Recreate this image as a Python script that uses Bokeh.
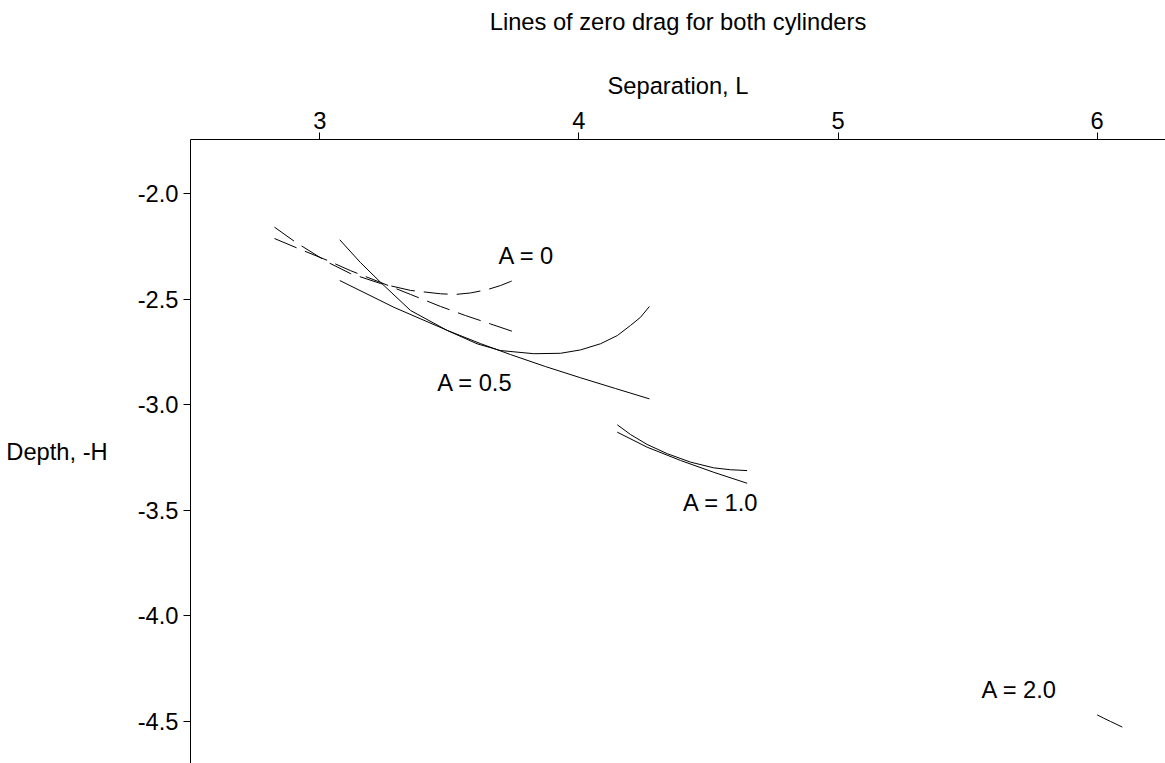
from bokeh.plotting import figure
from bokeh.models import FixedTicker, Range1d, ColumnDataSource, LinearAxis
from bokeh.core.properties import value
from bokeh.embed import file_html
from bokeh.resources import INLINE

# ---- data ----
title_text = "Lines of zero drag for both cylinders"
x_label = "Separation, L"
y_label = "Depth, -H"

# A = 0 (dashed) curves
a0_curve_x = [2.825, 2.906, 3.030, 3.118, 3.234, 3.350, 3.466, 3.524, 3.582, 3.647, 3.697, 3.736, 3.772]
a0_curve_y = [-2.158, -2.229, -2.324, -2.378, -2.425, -2.458, -2.474, -2.477, -2.470, -2.454, -2.435, -2.416, -2.395]
a0_line_x = [2.825, 2.926, 3.030, 3.118, 3.234, 3.350, 3.466, 3.562, 3.659, 3.772]
a0_line_y = [-2.212, -2.264, -2.316, -2.364, -2.420, -2.477, -2.534, -2.577, -2.617, -2.664]

# A = 0.5 (solid) curves
a05_curve_x = [3.077, 3.157, 3.234, 3.350, 3.492, 3.607, 3.697, 3.826, 3.929, 4.006, 4.083, 4.148, 4.199, 4.238, 4.272]
a05_curve_y = [-2.218, -2.326, -2.419, -2.553, -2.648, -2.711, -2.743, -2.758, -2.756, -2.740, -2.711, -2.672, -2.624, -2.585, -2.534]
a05_line_x = [3.077, 3.286, 3.493, 3.620, 3.736, 3.871, 4.006, 4.141, 4.272]
a05_line_y = [-2.411, -2.538, -2.648, -2.710, -2.762, -2.819, -2.872, -2.923, -2.972]

# A = 1.0 (solid) curves
a1_curve_x = [4.148, 4.199, 4.263, 4.341, 4.431, 4.520, 4.585, 4.649]
a1_curve_y = [-3.095, -3.141, -3.188, -3.232, -3.272, -3.299, -3.308, -3.312]
a1_line_x = [4.148, 4.263, 4.392, 4.520, 4.649]
a1_line_y = [-3.130, -3.201, -3.264, -3.320, -3.372]

# A = 2.0 (solid) curve
a2_curve_x = [6.000, 6.0255, 6.051, 6.097]
a2_curve_y = [-4.470, -4.486, -4.501, -4.528]

# curve labels
label_text = ["A = 0", "A = 0.5", "A = 1.0", "A = 2.0"]
label_x = [3.798, 3.599, 4.548, 5.700]
label_y = [-2.297, -2.899, -3.468, -4.352]

x_ticks = [3, 4, 5, 6]
y_ticks = [-2.0, -2.5, -3.0, -3.5, -4.0, -4.5]
y_tick_labels = ["-2.0", "-2.5", "-3.0", "-3.5", "-4.0", "-4.5"]

FONT = "Liberation Sans"
FS = "23.7px"

p = figure(width=1165, height=763, output_backend="svg", toolbar_location=None,
           x_axis_location="above", title_location=None,
           x_range=Range1d(2.501, 6.2636), y_range=Range1d(-4.7005, -1.7426),
           min_border_left=190, min_border_right=0, min_border_top=139, min_border_bottom=0)

p.xgrid.visible = False
p.ygrid.visible = False
p.outline_line_color = None
p.background_fill_color = "white"
p.border_fill_color = "white"

for ax in (p.xaxis[0], p.yaxis[0]):
    ax.axis_line_color = "black"
    ax.major_tick_line_color = "black"
    ax.major_tick_out = 7
    ax.major_tick_in = 0
    ax.minor_tick_line_color = None
    ax.major_label_text_font = FONT
    ax.major_label_text_font_size = FS
    ax.major_label_text_color = "black"
    ax.axis_label_text_font = FONT
    ax.axis_label_text_font_size = FS
    ax.axis_label_text_font_style = "normal"
    ax.axis_label_text_color = "black"

p.xaxis[0].ticker = FixedTicker(ticks=x_ticks)
p.xaxis[0].axis_label = x_label
p.xaxis[0].major_label_standoff = 4
p.xaxis[0].axis_label_standoff = 10

p.yaxis[0].ticker = FixedTicker(ticks=y_ticks)
p.yaxis[0].major_label_overrides = {t: s for t, s in zip(y_ticks, y_tick_labels)}
p.yaxis[0].axis_label = y_label
p.yaxis[0].axis_label_orientation = "horizontal"
p.yaxis[0].major_label_standoff = 5
p.yaxis[0].axis_label_standoff = 27

# title drawn as the label of an outer, bare axis above the plot
title_axis = LinearAxis(ticker=FixedTicker(ticks=[]), axis_label=title_text,
                        axis_line_color=None, major_tick_out=0, major_tick_in=0,
                        minor_tick_line_color=None, major_label_standoff=0,
                        axis_label_standoff=35, axis_label_text_font=FONT,
                        axis_label_text_font_size=FS, axis_label_text_font_style="normal",
                        axis_label_text_color="black")
p.add_layout(title_axis, "above")

dash = "24 9"
p.line(a0_curve_x, a0_curve_y, line_color="black", line_width=1, line_dash=dash)
p.line(a0_line_x, a0_line_y, line_color="black", line_width=1, line_dash=dash)
p.line(a05_curve_x, a05_curve_y, line_color="black", line_width=1)
p.line(a05_line_x, a05_line_y, line_color="black", line_width=1)
p.line(a1_curve_x, a1_curve_y, line_color="black", line_width=1)
p.line(a1_line_x, a1_line_y, line_color="black", line_width=1)
p.line(a2_curve_x, a2_curve_y, line_color="black", line_width=1)

src = ColumnDataSource(dict(x=label_x, y=label_y, t=label_text))
p.text(x="x", y="y", text="t", source=src, text_font=value(FONT), text_font_size=FS,
       text_align="center", text_baseline="middle", text_color="black")

open("out.html", "w").write(file_html(p, INLINE))
